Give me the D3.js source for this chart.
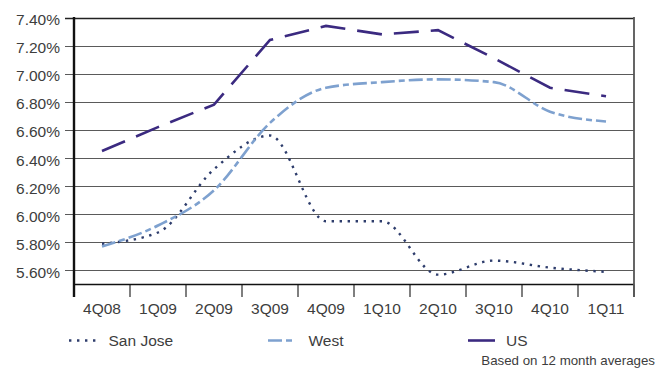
<!DOCTYPE html>
<html>
<head>
<meta charset="utf-8">
<script src="https://cdn.jsdelivr.net/npm/d3@7"></script>
<style>
  html, body { margin: 0; padding: 0; background: #fff; }
  svg { display: block; }
  text { font-family: "Liberation Sans", Arial, Helvetica, sans-serif; fill: #3d3d3d; }
</style>
</head>
<body>
<svg id="chart" width="672" height="371"></svg>
<script>
// Quarterly rates (%)
const quarters = ["4Q08", "1Q09", "2Q09", "3Q09", "4Q09", "1Q10", "2Q10", "3Q10", "4Q10", "1Q11"];
const sanJose  = [5.79, 5.87, 6.32, 6.56, 5.95, 5.95, 5.57, 5.67, 5.62, 5.59];
const west     = [5.77, 5.92, 6.17, 6.65, 6.90, 6.94, 6.96, 6.94, 6.73, 6.66];
const us       = [6.45, 6.62, 6.78, 7.24, 7.34, 7.28, 7.31, 7.11, 6.90, 6.84];
const yTicks   = [5.60, 5.80, 6.00, 6.20, 6.40, 6.60, 6.80, 7.00, 7.20, 7.40];
const footnote = "Based on 12 month averages";

const series = [
  { name: "San Jose", values: sanJose, color: "#2e3d6c", width: 2.4, dash: "2.4,5.6", curve: d3.curveMonotoneX, lx: [69, 96], tx: 108.5 },
  { name: "West",     values: west,    color: "#7ea1cf", width: 2.6, dash: "14,4,6,4", curve: d3.curveMonotoneX, lx: [268, 293], tx: 308.5 },
  { name: "US",       values: us,      color: "#3b2a80", width: 2.6, dash: "25,12",    curve: d3.curveLinear,    lx: [468, 495], tx: 506 }
];

const svg = d3.select("#chart");
const plot = { left: 74, right: 634, top: 17.5, bottom: 284.5 };

const x = d3.scaleBand().domain(quarters).range([plot.left, plot.right]);
const y = d3.scaleLinear().domain([5.5, 7.4]).range([plot.bottom, plot.top]);
const cx = q => x(q) + x.bandwidth() / 2;

// Horizontal gridlines with short outer ticks
svg.append("g")
  .selectAll("line")
  .data(yTicks)
  .join("line")
  .attr("x1", plot.left - 9).attr("x2", plot.right)
  .attr("y1", d => Math.round(y(d)) + 0.5).attr("y2", d => Math.round(y(d)) + 0.5)
  .attr("stroke", d => d === 7.4 ? "#222" : "#5a5a5a")
  .attr("stroke-width", d => d === 7.4 ? 1.6 : 1.2);

// Y tick labels
svg.append("g")
  .selectAll("text")
  .data(yTicks)
  .join("text")
  .attr("x", 60)
  .attr("y", d => y(d) + 7.5)
  .attr("text-anchor", "end")
  .style("font-size", "15.5px")
  .text(d => d.toFixed(2) + "%");

// Bottom axis with category boundary ticks
const xAxis = d3.axisBottom(x).tickSize(0).tickPadding(0);
const gx = svg.append("g").attr("transform", `translate(0,${plot.bottom})`).call(xAxis);
gx.select(".domain").remove();
gx.selectAll(".tick text")
  .attr("y", 29.5)
  .attr("dy", null)
  .style("font-size", "15.5px")
  .style("font-family", "'Liberation Sans', Arial, Helvetica, sans-serif")
  .attr("fill", "#3d3d3d");

const bounds = quarters.map(q => x(q)).concat([plot.right]);
svg.append("g")
  .selectAll("line")
  .data(bounds)
  .join("line")
  .attr("x1", d => d).attr("x2", d => d)
  .attr("y1", plot.bottom).attr("y2", plot.bottom + 12.5)
  .attr("stroke", "#555").attr("stroke-width", 1.5);

// Frame: baseline, left axis, right border
svg.append("line")
  .attr("x1", plot.left).attr("x2", plot.right)
  .attr("y1", plot.bottom).attr("y2", plot.bottom)
  .attr("stroke", "#111").attr("stroke-width", 1.6);
svg.append("line")
  .attr("x1", plot.left).attr("x2", plot.left)
  .attr("y1", plot.top - 0.5).attr("y2", plot.bottom + 12.5)
  .attr("stroke", "#111").attr("stroke-width", 2.4);
svg.append("line")
  .attr("x1", plot.right).attr("x2", plot.right)
  .attr("y1", plot.top - 0.5).attr("y2", plot.bottom + 12.5)
  .attr("stroke", "#555").attr("stroke-width", 1.8);

// Series lines
const lineGen = s => d3.line()
  .x((d, i) => cx(quarters[i]))
  .y(d => y(d))
  .curve(s.curve);

svg.append("g")
  .selectAll("path")
  .data(series)
  .join("path")
  .attr("d", s => lineGen(s)(s.values))
  .attr("fill", "none")
  .attr("stroke", s => s.color)
  .attr("stroke-width", s => s.width)
  .attr("stroke-dasharray", s => s.dash);

// Legend
const legendY = 340.5;
const lg = svg.append("g");
lg.selectAll("line")
  .data(series)
  .join("line")
  .attr("x1", s => s.lx[0]).attr("x2", s => s.lx[1])
  .attr("y1", legendY).attr("y2", legendY)
  .attr("stroke", s => s.color)
  .attr("stroke-width", s => s.width)
  .attr("stroke-dasharray", s => s.name === "US" ? null : s.dash);
lg.selectAll("text")
  .data(series)
  .join("text")
  .attr("x", s => s.tx)
  .attr("y", 345.5)
  .style("font-size", "15.5px")
  .text(s => s.name);

// Footnote
svg.append("text")
  .attr("x", 655)
  .attr("y", 364.5)
  .attr("text-anchor", "end")
  .style("font-size", "13.3px")
  .text(footnote);
</script>
</body>
</html>
